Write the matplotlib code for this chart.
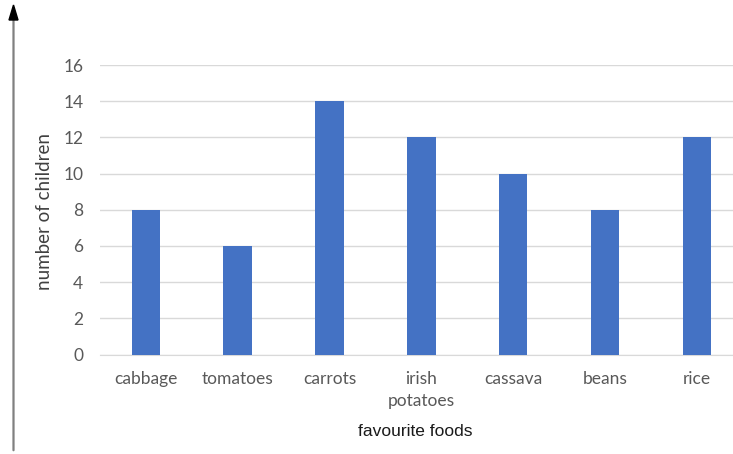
import matplotlib
matplotlib.use("Agg")
import matplotlib.pyplot as plt

foods = ["cabbage", "tomatoes", "carrots", "irish\npotatoes", "cassava", "beans", "rice"]
children = [8, 6, 14, 12, 10, 8, 12]
yticks = [0, 2, 4, 6, 8, 10, 12, 14, 16]

fig = plt.figure(figsize=(7.33, 4.54), dpi=100)
W, H = 733, 454
# plot area in pixels: x 100 -> right edge, y 65 -> 354.5
ax = fig.add_axes([100 / W, (H - 354.5) / H, 633 / W, 289.5 / H])

x = range(len(foods))
ax.bar(x, children, width=0.31, color="#4472C4", zorder=3)

ax.set_ylim(0, 16)
ax.set_xlim(-0.5, 6.395)
ax.set_yticks(yticks)
ax.set_xticks(list(x))
ax.set_xticklabels(foods, fontfamily="Lato", fontsize=12.5, color="#595959", linespacing=1.45)
for lbl in ax.get_yticklabels():
    lbl.set_fontfamily("Lato")
    lbl.set_fontsize(12.5)
    lbl.set_color("#595959")
ax.tick_params(axis="both", length=0)
ax.tick_params(axis="y", pad=12)
ax.tick_params(axis="x", pad=12)
ax.grid(axis="y", color="#D9D9D9", linewidth=1, zorder=0)
for s in ["top", "right", "left"]:
    ax.spines[s].set_visible(False)
ax.spines["bottom"].set_color("#D9D9D9")

fig.text(45 / W, 1 - 211 / H, "number of children", rotation=90, ha="center", va="center",
         fontfamily="Lato", fontsize=13.5, color="#404040")
fig.text(415 / W, 1 - 432 / H, "favourite foods", ha="center", va="center",
         fontfamily="Liberation Sans", fontsize=12.5, color="#1a1a1a")

# arrow on the left
fig.add_artist(matplotlib.patches.FancyArrowPatch(
    (13.5 / W, 1 - 453 / H), (13.5 / W, 1 - 12 / H), transform=fig.transFigure,
    arrowstyle="-", color="#808080", linewidth=1.6))
fig.add_artist(matplotlib.patches.Polygon(
    [(9 / W, 1 - 20 / H), (18 / W, 1 - 20 / H), (13.5 / W, 1 - 5 / H)],
    closed=True, transform=fig.transFigure, color="black"))

fig.savefig("out.png", dpi=100)
